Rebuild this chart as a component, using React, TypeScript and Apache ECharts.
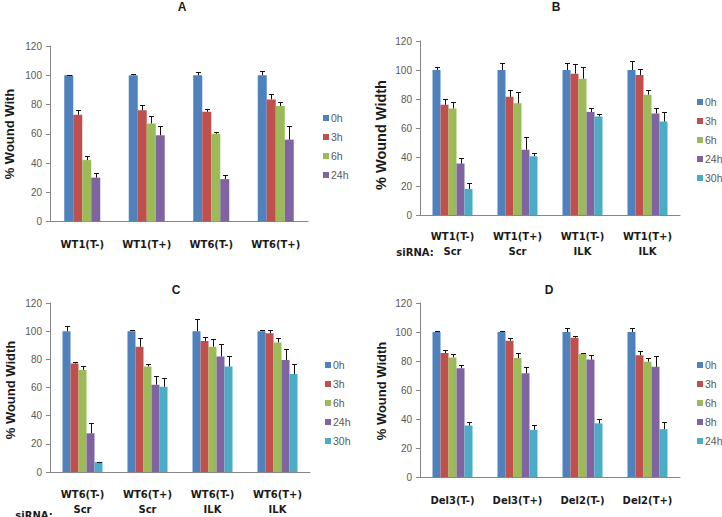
import React, { useEffect, useRef } from "react";
import * as echarts from "echarts";

// ---- Data ----
const colors = ["#4F81BD", "#C0504D", "#9BBB59", "#8064A2", "#4BACC6"];

// Panel A
const categoriesA = ["WT1(T-)", "WT1(T+)", "WT6(T-)", "WT6(T+)"];
const seriesA = ["0h", "3h", "6h", "24h"];
const valuesA = [
  [100, 100, 100, 100],
  [73, 76, 75, 83.5],
  [42, 67, 60, 79],
  [30, 59, 29, 56],
];
const errTopA = [
  [100.4, 101, 102.5, 103],
  [76, 79.5, 77, 87],
  [45, 72, 61, 82],
  [33, 65.5, 32, 65],
];

// Panel B
const categoriesB = ["WT1(T-)", "WT1(T+)", "WT1(T-)", "WT1(T+)"];
const sirnaB = ["Scr", "Scr", "ILK", "ILK"];
const seriesB = ["0h", "3h", "6h", "24h", "30h"];
const valuesB = [
  [100, 100, 100, 100],
  [76, 81.5, 97.5, 96.5],
  [73.5, 77, 94, 83],
  [35.5, 45, 71, 70],
  [18, 40.5, 68, 64.5],
];
const errTopB = [
  [102, 105, 105, 106],
  [80, 86, 104, 101],
  [78, 85, 102, 86],
  [39, 54, 74, 74],
  [22, 43, 70, 71],
];

// Panel C
const categoriesC = ["WT6(T-)", "WT6(T+)", "WT6(T-)", "WT6(T+)"];
const sirnaC = ["Scr", "Scr", "ILK", "ILK"];
const seriesC = ["0h", "3h", "6h", "24h", "30h"];
const valuesC = [
  [100, 100, 100, 100],
  [77, 89, 93, 98.5],
  [72.5, 75, 89, 92],
  [27.5, 62, 82, 79.5],
  [7, 60.5, 75, 69.5],
];
const errTopC = [
  [104, 101, 108.5, 100.5],
  [78, 95, 96, 100.5],
  [75, 77, 94.5, 95.5],
  [35, 68, 91, 87.5],
  [7.3, 66.5, 82.5, 76.5],
];

// Panel D
const categoriesD = ["Del3(T-)", "Del3(T+)", "Del2(T-)", "Del2(T+)"];
const seriesD = ["0h", "3h", "6h", "8h", "24h"];
const valuesD = [
  [100, 100, 100, 100],
  [85.5, 94, 96, 84],
  [82.5, 82, 85, 79.5],
  [75, 71.5, 81, 76],
  [35.5, 32.5, 37, 33],
];
const errTopD = [
  [100.4, 100.4, 102.5, 102.5],
  [87.5, 96, 97.5, 87],
  [85, 85.5, 85.3, 82],
  [77.5, 76, 84, 83.5],
  [38, 36, 40, 38],
];

const yTicks = { min: 0, max: 120, interval: 20 };

const FONT = "'Liberation Sans', Arial, sans-serif";
const BOLDFONT = "'DejaVu Sans', Verdana, sans-serif";

type Panel = {
  key: string;
  title: string;
  yName: string;
  yNameSize: number;
  categories: string[];
  sirna?: string[];
  series: string[];
  values: number[][];
  errs: number[][];
  grid: { left: number; top: number; width: number; height: number };
  barWidth: number;
  legend: { left: number; top: number };
  titlePos: [number, number];
  yNamePos: [number, number];
  labelMargin: number;
  sirnaLabelX?: number;
};

const panels: Panel[] = [
  {
    key: "A",
    title: "A",
    yName: "% Wound With",
    yNameSize: 13,
    categories: categoriesA,
    series: seriesA,
    values: valuesA,
    errs: errTopA,
    grid: { left: 50, top: 46, width: 258, height: 175.5 },
    barWidth: 9,
    legend: { left: 323, top: 112 },
    titlePos: [182, 7],
    yNamePos: [9, 134],
    labelMargin: 15,
  },
  {
    key: "B",
    title: "B",
    yName: "% Wound Width",
    yNameSize: 14.5,
    categories: categoriesB,
    sirna: sirnaB,
    series: seriesB,
    values: valuesB,
    errs: errTopB,
    grid: { left: 420, top: 41, width: 260, height: 174 },
    barWidth: 8,
    legend: { left: 697, top: 96 },
    titlePos: [556, 7],
    yNamePos: [381, 135],
    labelMargin: 14,
    sirnaLabelX: 415,
  },
  {
    key: "C",
    title: "C",
    yName: "% Wound Width",
    yNameSize: 13,
    categories: categoriesC,
    sirna: sirnaC,
    series: seriesC,
    values: valuesC,
    errs: errTopC,
    grid: { left: 50, top: 303, width: 260, height: 174 },
    barWidth: 8,
    legend: { left: 325, top: 359 },
    titlePos: [176, 290],
    yNamePos: [10, 390],
    labelMargin: 15,
    sirnaLabelX: 34,
  },
  {
    key: "D",
    title: "D",
    yName: "% Wound Width",
    yNameSize: 13,
    categories: categoriesD,
    series: seriesD,
    values: valuesD,
    errs: errTopD,
    grid: { left: 420, top: 303, width: 260, height: 174 },
    barWidth: 8,
    legend: { left: 697, top: 359 },
    titlePos: [549, 290],
    yNamePos: [381, 391],
    labelMargin: 16,
  },
];

function buildOption() {
  const grid: any[] = [];
  const xAxis: any[] = [];
  const yAxis: any[] = [];
  const series: any[] = [];
  const legend: any[] = [];
  const graphic: any[] = [];

  panels.forEach((p, pi) => {
    grid.push({ ...p.grid, containLabel: false });
    xAxis.push({
      type: "category",
      gridIndex: pi,
      data: p.categories.map((c, i) => (p.sirna ? `${c}\n${p.sirna[i]}` : c)),
      axisLine: { show: true, lineStyle: { color: "#868686", width: 1 } },
      axisTick: { show: false },
      splitLine: { show: false },
      axisLabel: {
        margin: p.labelMargin,
        fontFamily: BOLDFONT,
        fontSize: 10,
        fontWeight: "bold",
        color: "#1a1a1a",
        lineHeight: 15,
        interval: 0,
      },
    });
    yAxis.push({
      type: "value",
      gridIndex: pi,
      ...yTicks,
      axisLine: { show: true, lineStyle: { color: "#868686", width: 1 } },
      axisTick: { show: true, length: 4, lineStyle: { color: "#868686" } },
      splitLine: { show: false },
      axisLabel: {
        margin: 8,
        fontFamily: FONT,
        fontSize: 10,
        color: "#595959",
      },
    });

    const n = p.series.length;
    p.series.forEach((s, si) => {
      series.push({
        type: "bar",
        name: `${p.key}_${s}`,
        xAxisIndex: pi,
        yAxisIndex: pi,
        data: p.values[si],
        barWidth: p.barWidth,
        barGap: "0%",
        itemStyle: { color: colors[si] },
        z: 2,
      });
    });
    p.series.forEach((s, si) => {
      const bw = p.barWidth;
      series.push({
        type: "custom",
        name: `${p.key}_err_${s}`,
        xAxisIndex: pi,
        yAxisIndex: pi,
        data: p.values[si].map((v, i) => [i, v, p.errs[si][i]]),
        encode: { x: 0, y: [1, 2] },
        z: 5,
        renderItem: (params: any, api: any) => {
          const i = api.value(0);
          const v = api.value(1);
          const e = api.value(2);
          const base = api.coord([i, v]);
          const top = api.coord([i, e]);
          const x = Math.round(base[0] + (si - (n - 1) / 2) * bw) + 0.5;
          const cap = 2.5;
          const yt = Math.round(top[1]) + 0.5;
          return {
            type: "group",
            children: [
              {
                type: "line",
                shape: { x1: x, y1: base[1], x2: x, y2: yt },
                style: { stroke: "#111", lineWidth: 1 },
              },
              {
                type: "line",
                shape: { x1: x - cap, y1: yt, x2: x + cap, y2: yt },
                style: { stroke: "#111", lineWidth: 1 },
              },
            ],
          };
        },
      });
    });

    legend.push({
      orient: "vertical",
      left: p.legend.left,
      top: p.legend.top,
      data: p.series.map((s) => `${p.key}_${s}`),
      formatter: (name: string) => name.split("_")[1],
      icon: "rect",
      itemWidth: 6,
      itemHeight: 6,
      itemGap: 7,
      padding: 0,
      selectedMode: false,
      textStyle: {
        fontFamily: FONT,
        fontSize: 10.5,
        color: "#595959",
        lineHeight: 12,
        padding: [0, 0, 0, -3],
      },
    });

    graphic.push({
      type: "text",
      x: p.titlePos[0],
      y: p.titlePos[1],
      style: {
        text: p.title,
        font: `bold 12px ${FONT}`,
        fill: "#1a1a1a",
        align: "center",
        verticalAlign: "middle",
      },
    });
    graphic.push({
      type: "text",
      x: p.yNamePos[0],
      y: p.yNamePos[1],
      rotation: Math.PI / 2,
      style: {
        text: p.yName,
        font: `bold ${p.yNameSize}px ${FONT}`,
        fill: "#1a1a1a",
        align: "center",
        verticalAlign: "middle",
      },
    });
    if (p.sirna && p.sirnaLabelX !== undefined) {
      const yRow = p.grid.top + p.grid.height + p.labelMargin + 15 + 8;
      graphic.push({
        type: "text",
        x: p.sirnaLabelX,
        y: yRow,
        style: {
          text: "siRNA:",
          font: `bold 10px ${BOLDFONT}`,
          fill: "#1a1a1a",
          align: "center",
          verticalAlign: "middle",
        },
      });
    }
  });

  return {
    animation: false,
    backgroundColor: "#ffffff",
    grid,
    xAxis,
    yAxis,
    series,
    legend,
    graphic,
  };
}

export default function App() {
  const ref = useRef<HTMLDivElement>(null);
  useEffect(() => {
    if (!ref.current) return;
    const chart = echarts.init(ref.current, null, { renderer: "svg" });
    chart.setOption(buildOption() as any);
    return () => chart.dispose();
  }, []);
  return (
    <div
      ref={ref}
      style={{ width: 722, height: 517, position: "absolute", left: 0, top: 0 }}
    />
  );
}
